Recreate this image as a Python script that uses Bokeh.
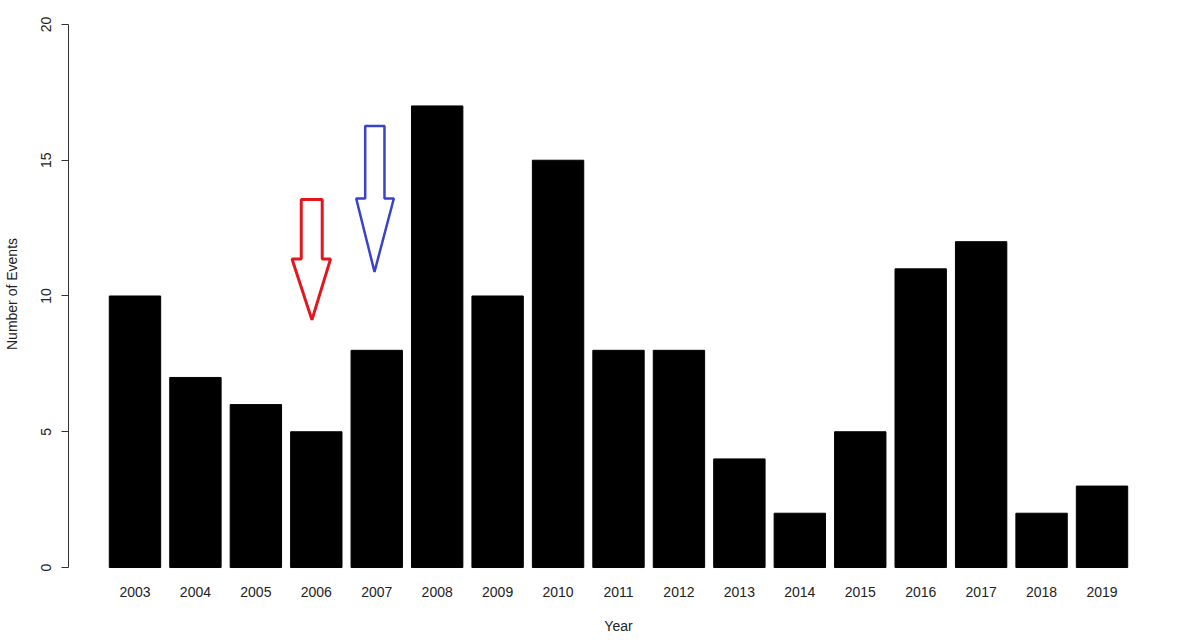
from bokeh.plotting import figure
from bokeh.models import FactorRange, Range1d, FixedTicker, ColumnDataSource
from bokeh.embed import file_html
from bokeh.resources import INLINE

# ---- data ----
years = [str(y) for y in range(2003, 2020)]
events = [10, 7, 6, 5, 8, 17, 10, 15, 8, 8, 4, 2, 5, 11, 12, 2, 3]
y_ticks = [0, 5, 10, 15, 20]

# annotation arrows (outline polygons, synthetic categorical x / data y)
red_arrow_x = [3.251, 3.598, 3.598, 3.735, 3.428, 3.098, 3.251]
red_arrow_y = [13.555, 13.555, 11.36, 11.36, 9.12, 11.36, 11.36]
blue_arrow_x = [4.309, 4.628, 4.628, 4.783, 4.463, 4.160, 4.309]
blue_arrow_y = [16.26, 16.26, 13.59, 13.59, 10.89, 13.59, 13.59]

FONT = "Liberation Sans"
TXT = "#222222"

p = figure(
    width=1192, height=636,
    x_range=FactorRange(factors=years, range_padding=0.6, range_padding_units="absolute"),
    y_range=Range1d(-0.441, 20.588),
    output_backend="svg", toolbar_location=None,
    min_border_left=67, min_border_right=24, min_border_top=8, min_border_bottom=56,
)
p.outline_line_color = None
p.xgrid.visible = False
p.ygrid.visible = False
p.background_fill_color = "white"
p.border_fill_color = "white"

src = ColumnDataSource(dict(year=years, n=events))
p.vbar(x="year", top="n", bottom=0, width=0.85, source=src,
       fill_color="black", line_color="black", line_width=1)

p.patch(red_arrow_x, red_arrow_y, fill_color=None, line_color="#e3161e", line_width=3)
p.patch(blue_arrow_x, blue_arrow_y, fill_color=None, line_color="#3a41cc", line_width=2.5)

# y axis
ya = p.yaxis[0]
ya.ticker = FixedTicker(ticks=y_ticks)
ya.bounds = (0, 20)
ya.major_tick_out = 7
ya.major_tick_in = 0
ya.minor_tick_line_color = None
ya.axis_line_color = "#333333"
ya.major_tick_line_color = "#333333"
ya.major_label_orientation = "vertical"
ya.major_label_standoff = 10
ya.major_label_text_font = FONT
ya.major_label_text_font_size = "14px"
ya.major_label_text_color = TXT
ya.axis_label = "Number of Events"
ya.axis_label_text_font = FONT
ya.axis_label_text_font_size = "14px"
ya.axis_label_text_font_style = "normal"
ya.axis_label_text_color = TXT
ya.axis_label_standoff = 19

# x axis
xa = p.xaxis[0]
xa.axis_line_color = None
xa.major_tick_line_color = None
xa.minor_tick_line_color = None
xa.major_tick_out = 0
xa.major_tick_in = 0
xa.major_label_standoff = 7
xa.major_label_text_font = FONT
xa.major_label_text_font_size = "14px"
xa.major_label_text_color = TXT
xa.axis_label = "Year"
xa.axis_label_text_font = FONT
xa.axis_label_text_font_size = "14px"
xa.axis_label_text_font_style = "normal"
xa.axis_label_text_color = TXT
xa.axis_label_standoff = 18

open("out.html", "w").write(file_html(p, INLINE))
